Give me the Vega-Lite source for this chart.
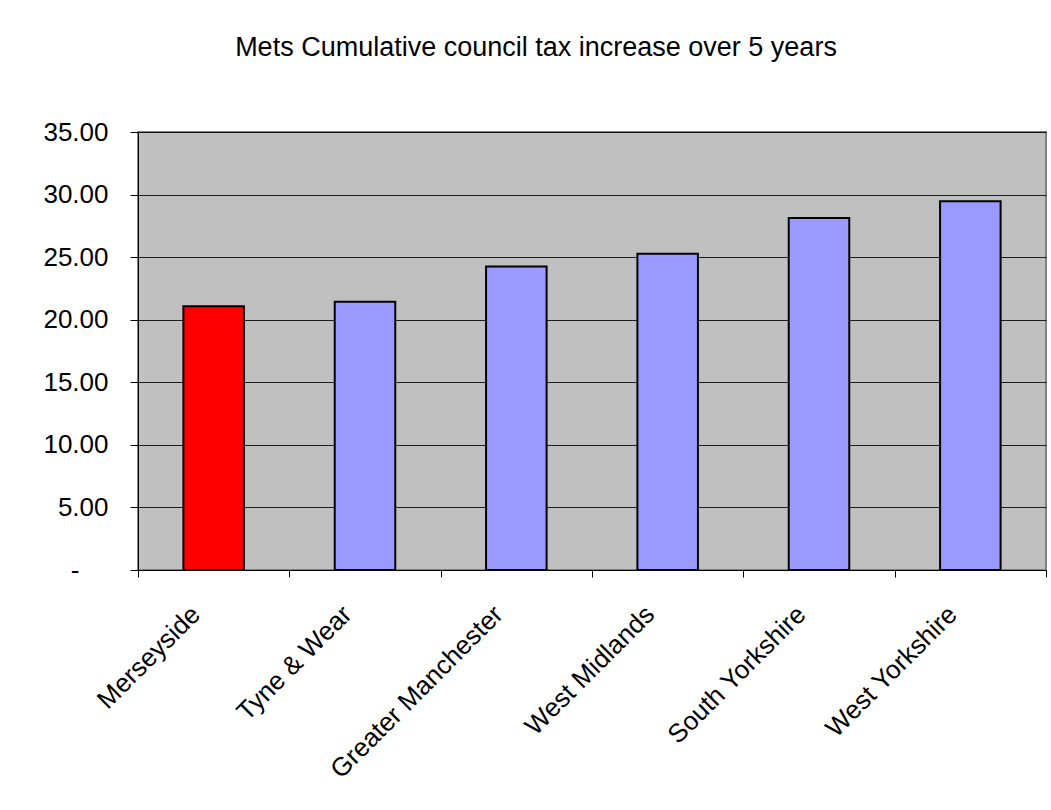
{
  "$schema": "https://vega.github.io/schema/vega-lite/v6.json",
  "autosize": {"type": "none"},
  "width": 908,
  "height": 438,
  "padding": {"left": 138, "top": 132, "right": 5, "bottom": 240},
  "background": "white",
  "title": {
    "text": "Mets Cumulative council tax increase over 5 years",
    "font": "Liberation Sans",
    "fontSize": 27,
    "fontWeight": "normal",
    "color": "black",
    "anchor": "middle",
    "dx": -56,
    "offset": 57
  },
  "data": {
    "values": [
      {"area": "Merseyside", "increase": 21.08, "group": "Merseyside"},
      {"area": "Tyne & Wear", "increase": 21.43, "group": "Other"},
      {"area": "Greater Manchester", "increase": 24.26, "group": "Other"},
      {"area": "West Midlands", "increase": 25.27, "group": "Other"},
      {"area": "South Yorkshire", "increase": 28.12, "group": "Other"},
      {"area": "West Yorkshire", "increase": 29.46, "group": "Other"}
    ]
  },
  "mark": {"type": "bar", "stroke": "black", "strokeWidth": 2, "width": {"band": 0.4}},
  "encoding": {
    "x": {
      "field": "area",
      "type": "nominal",
      "sort": null,
      "scale": {"paddingInner": 0, "paddingOuter": 0},
      "axis": {
        "title": null,
        "labelAngle": -45,
        "labelAlign": "right",
        "labelBaseline": "middle",
        "labelFont": "Liberation Sans",
        "labelFontSize": 26,
        "labelColor": "black",
        "labelPadding": 33,
        "labelOffset": -18,
        "labelLimit": 0,
        "tickBand": "extent",
        "tickSize": 7,
        "tickColor": "black",
        "domainColor": "black",
        "grid": false
      }
    },
    "y": {
      "field": "increase",
      "type": "quantitative",
      "scale": {"domain": [0, 35], "nice": false},
      "axis": {
        "title": null,
        "values": [0, 5, 10, 15, 20, 25, 30, 35],
        "labelExpr": "datum.value == 0 ? '-' : format(datum.value, '.2f')",
        "labelFont": "Liberation Sans",
        "labelFontSize": 26,
        "labelColor": "black",
        "labelPadding": {"condition": {"test": "datum.value == 0", "value": 51}, "value": 22},
        "tickSize": 8,
        "tickColor": "black",
        "domainColor": "black",
        "grid": true,
        "gridColor": "black",
        "gridOpacity": 0.85,
        "gridWidth": 1
      }
    },
    "color": {
      "field": "group",
      "type": "nominal",
      "scale": {"domain": ["Merseyside", "Other"], "range": ["#FF0000", "#9999FF"]},
      "legend": null
    }
  },
  "config": {
    "view": {"fill": "#C0C0C0", "stroke": "#808080", "strokeWidth": 2}
  }
}
